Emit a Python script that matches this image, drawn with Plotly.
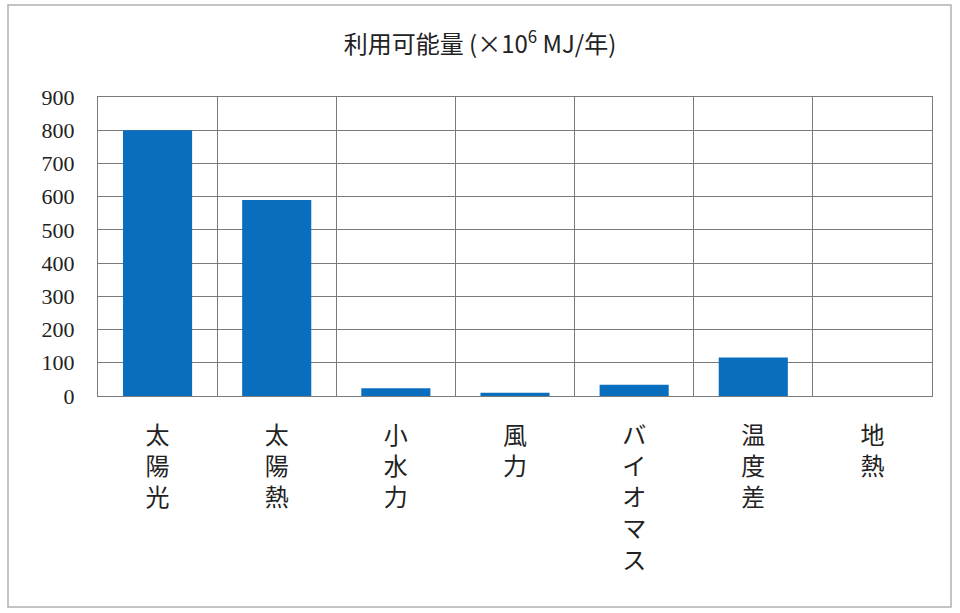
import plotly.graph_objects as go

categories = ["太陽光", "太陽熱", "小水力", "風力", "バイオマス", "温度差", "地熱"]
values = [800, 590, 23, 10, 34, 116, 0]
y_ticks = [0, 100, 200, 300, 400, 500, 600, 700, 800, 900]

labels = ["<br>".join(list(c)) for c in categories]

W, H = 960, 613
ml, mr, mt, mb = 98, 28, 97, 217

fig = go.Figure(go.Bar(
    x=categories, y=values, marker=dict(color="#0a6ebf", line=dict(width=0)),
    width=0.58,
))

pw = W - ml - mr
ph = H - mt - mb
fig.update_layout(
    width=W, height=H,
    margin=dict(l=ml, r=mr, t=mt, b=mb, pad=0),
    paper_bgcolor="white", plot_bgcolor="white",
    showlegend=False,
    title=dict(text="利用可能量 (×10<sup>6</sup> MJ/年)", x=0.5, xanchor="center",
               y=1 - 45 / H, yanchor="middle",
               font=dict(family="Noto Sans CJK JP", size=24, color="#222")),
    xaxis=dict(type="category", tickmode="array", tickvals=categories, ticktext=labels,
               tickson="boundaries", showgrid=True, gridcolor="#7a7a7a", gridwidth=1,
               showline=True, linecolor="#7a7a7a", mirror=True, ticks="",
               tickfont=dict(family="Noto Sans CJK JP", size=24, color="#222"),
               ticklabelstandoff=18, range=[-0.5, 6.5]),
    yaxis=dict(range=[0, 900], tickvals=y_ticks, showgrid=True, gridcolor="#7a7a7a",
               gridwidth=1, showline=True, linecolor="#7a7a7a", mirror=True,
               zeroline=False, ticks="",
               tickfont=dict(family="Liberation Serif", size=22, color="#222"),
               ticklabelstandoff=18),
    shapes=[dict(type="rect", xref="paper", yref="paper",
                 x0=(8 - ml) / pw, x1=(951 - ml) / pw,
                 y0=(H - mb - 607) / ph, y1=(H - mb - 5) / ph,
                 line=dict(color="#b0b0b0", width=1.5), layer="below")],
)

fig.write_html("out.html")
